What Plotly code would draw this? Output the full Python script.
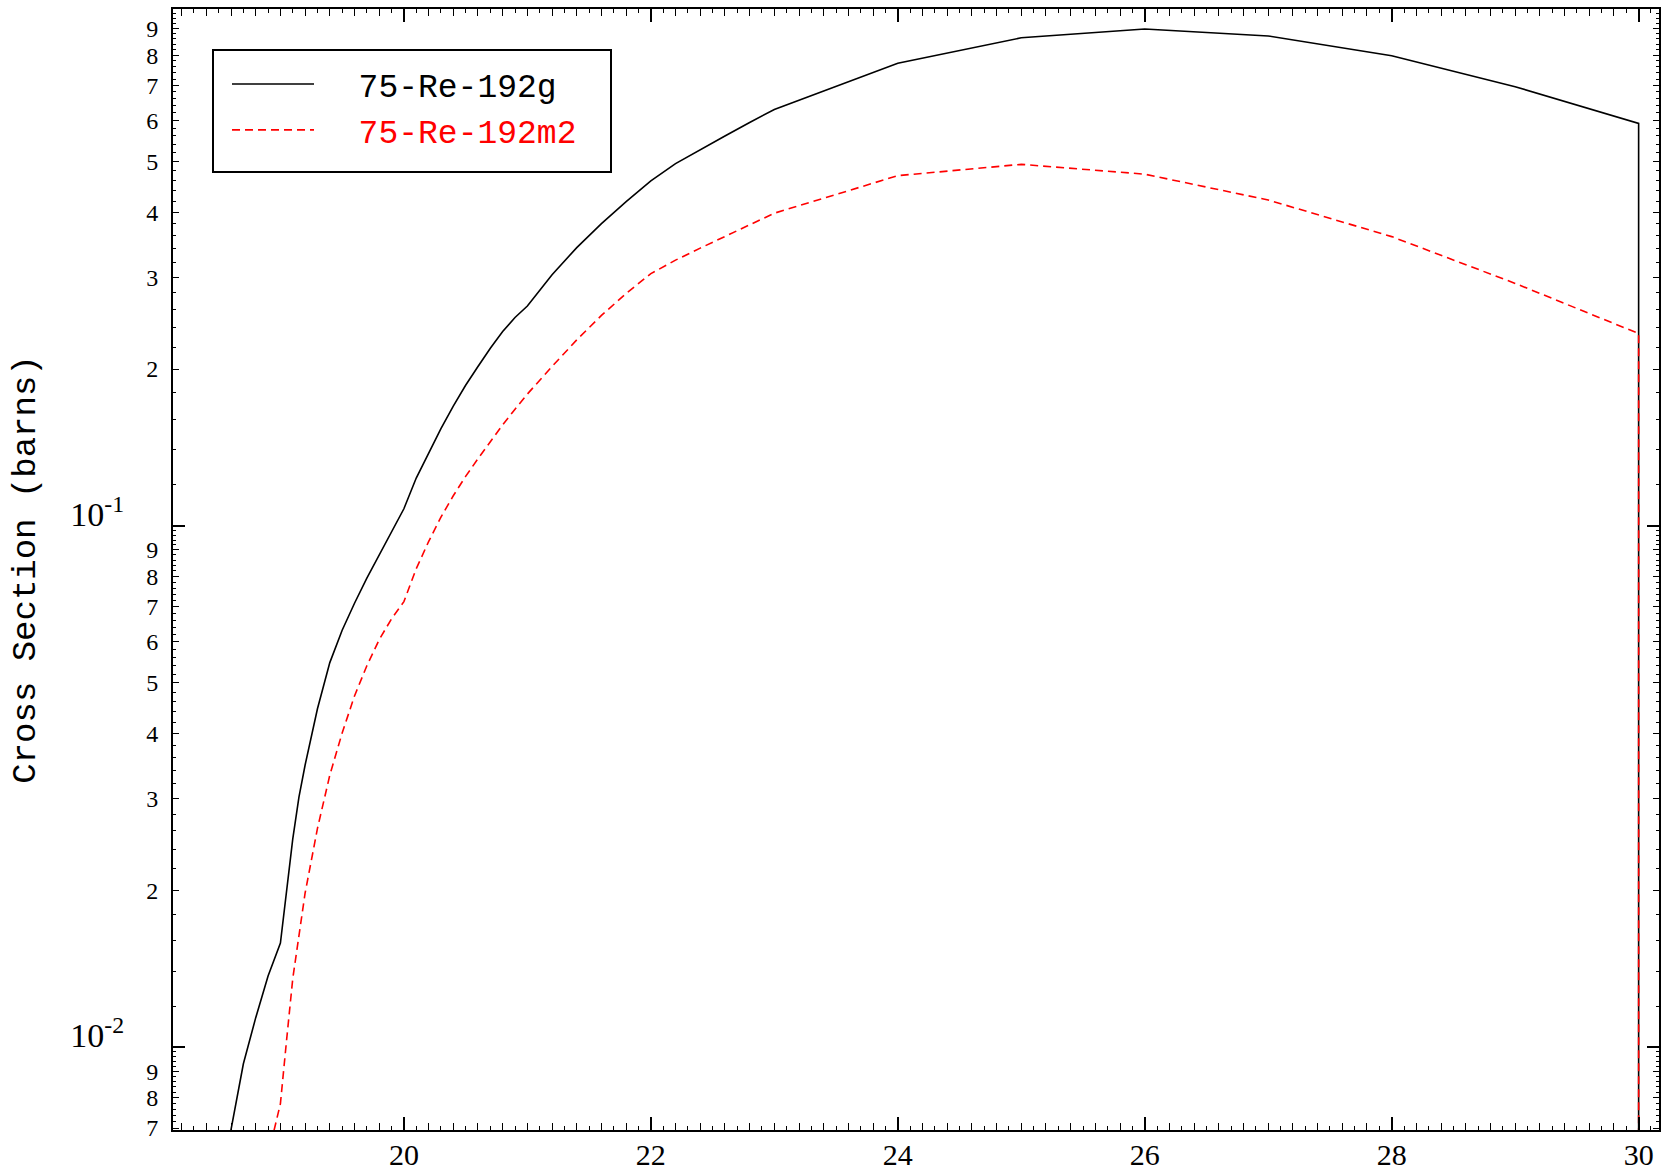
import plotly.graph_objects as go

# ---------------- data ----------------
energy_g = [18.5, 18.6, 18.7, 18.8, 18.9, 19.0, 19.05, 19.1, 19.15, 19.2, 19.3,
            19.4, 19.5, 19.6, 19.7, 19.8, 19.9, 20.0, 20.1, 20.2, 20.3, 20.4,
            20.5, 20.6, 20.7, 20.8, 20.9, 21.0, 21.2, 21.4, 21.6, 21.8, 22.0,
            22.2, 22.4, 22.6, 22.8, 23.0, 24.0, 25.0, 26.0, 27.0, 28.0, 29.0,
            30.0, 30.0]
xs_g = [0.0052, 0.00694, 0.0093, 0.0114, 0.0137, 0.01585, 0.0202, 0.0251,
        0.0302, 0.0348, 0.0446, 0.0547, 0.0631, 0.0711, 0.0794, 0.0881,
        0.0977, 0.1079, 0.1236, 0.1384, 0.1538, 0.1698, 0.1862, 0.2023,
        0.2193, 0.2360, 0.2512, 0.2642, 0.3034, 0.3420, 0.3802, 0.4188,
        0.4592, 0.4955, 0.5272, 0.5598, 0.5943, 0.6295, 0.772, 0.864, 0.898,
        0.871, 0.798, 0.696, 0.592, 0.001]

energy_m2 = [18.9, 19.0, 19.05, 19.1, 19.2, 19.3, 19.4, 19.5, 19.6, 19.7, 19.8,
             19.9, 20.0, 20.1, 20.2, 20.3, 20.4, 20.5, 20.6, 20.7, 20.8, 20.9,
             21.0, 21.2, 21.4, 21.6, 21.8, 22.0, 22.2, 22.4, 22.6, 22.8, 23.0,
             24.0, 25.0, 26.0, 27.0, 28.0, 29.0, 30.0, 30.0]
xs_m2 = [0.0062, 0.0078, 0.01033, 0.01355, 0.01977, 0.0263, 0.03327, 0.04009,
         0.04721, 0.05395, 0.06053, 0.06637, 0.07161, 0.08279, 0.09333, 0.1040,
         0.1143, 0.1245, 0.1346, 0.1452, 0.1563, 0.1675, 0.1791, 0.2023,
         0.2275, 0.2535, 0.2793, 0.3048, 0.3236, 0.3412, 0.3589, 0.3776,
         0.3981, 0.4699, 0.494, 0.473, 0.422, 0.359, 0.292, 0.234, 0.001]

series_names = ["75-Re-192g", "75-Re-192m2"]
series_colors = ["black", "red"]

x_range = [18.13, 30.165]
y_range = [-2.1586, -0.0083]          # log10 of 0.00694 .. 0.981
x_major_ticks = [20, 22, 24, 26, 28, 30]
y_decade_vals = [0.01, 0.1]
y_decade_text = ["10<sup>-2</sup>", "10<sup>-1</sup>"]
y_digit_vals = [0.007, 0.008, 0.009,
                0.02, 0.03, 0.04, 0.05, 0.06, 0.07, 0.08, 0.09,
                0.2, 0.3, 0.4, 0.5, 0.6, 0.7, 0.8, 0.9]
y_digit_text = ["7", "8", "9",
                "2", "3", "4", "5", "6", "7", "8", "9",
                "2", "3", "4", "5", "6", "7", "8", "9"]
y_minor_steps = [1.2, 1.4, 1.6, 1.8, 2.2, 2.4, 2.6, 2.8, 3.2, 3.4, 3.6, 3.8,
                 4.2, 4.4, 4.6, 4.8, 5.2, 5.4, 5.6, 5.8, 6.2, 6.4, 6.6, 6.8,
                 7.2, 7.4, 7.6, 7.8, 8.2, 8.4, 8.6, 8.8, 9.2, 9.4, 9.6, 9.8]
y_minor_vals = [s * d for d in (0.001, 0.01, 0.1) for s in y_minor_steps]

NUM_FONT = "Liberation Serif"
TXT_FONT = "Liberation Mono"
NBSP = "\u00a0\u00a0"

FIG_W, FIG_H = 1663, 1171
M_L, M_R, M_T, M_B = 173, 4, 9, 41
PLOT_W = FIG_W - M_L - M_R
PLOT_H = FIG_H - M_T - M_B

fig = go.Figure()
fig.add_trace(go.Scatter(
    x=energy_g, y=xs_g, mode="lines", name=NBSP + series_names[0],
    line=dict(color=series_colors[0], width=1.6)))
fig.add_trace(go.Scatter(
    x=energy_m2, y=xs_m2, mode="lines", xaxis="x2", yaxis="y2",
    name=NBSP + "<span style='color:red'>" + series_names[1] + "</span>",
    line=dict(color=series_colors[1], width=1.6, dash="8px,5px")))

axis_common = dict(showline=True, linecolor="black", linewidth=2,
                   mirror="allticks", ticks="inside", tickcolor="black",
                   showgrid=False, zeroline=False, automargin=False)

fig.update_layout(
    width=FIG_W, height=FIG_H,
    margin=dict(l=M_L, r=M_R, t=M_T, b=M_B, autoexpand=False),
    paper_bgcolor="white", plot_bgcolor="white",
    showlegend=True,
    legend=dict(x=54 / PLOT_W, y=1 - 47 / PLOT_H,
                xanchor="left", yanchor="top",
                bgcolor="rgba(0,0,0,0)", borderwidth=0,
                font=dict(family=TXT_FONT, size=33, color="black"),
                itemwidth=82, tracegroupgap=0),
    xaxis=dict(axis_common, range=x_range, tickmode="array",
               tickvals=x_major_ticks, ticklen=13, tickwidth=1.5,
               ticklabelstandoff=-3,
               tickfont=dict(family=NUM_FONT, size=30, color="black"),
               minor=dict(dtick=0.2, tick0=20, ticklen=7, ticks="inside",
                          tickcolor="black", tickwidth=1.2)),
    xaxis2=dict(axis_common, overlaying="x", anchor="y2", range=x_range,
                dtick=0.1, tick0=20, ticklen=4, tickwidth=1,
                showticklabels=False),
    yaxis=dict(axis_common, type="log", range=y_range, tickmode="array",
               tickvals=y_digit_vals, ticktext=y_digit_text, ticklen=6,
               tickwidth=1.2, ticklabelstandoff=8,
               tickfont=dict(family=NUM_FONT, size=24, color="black"),
               minor=dict(tickmode="array", tickvals=y_minor_vals, ticklen=3,
                          ticks="inside", tickcolor="black", tickwidth=1),
               title=dict(text="Cross Section (barns)", standoff=100,
                          font=dict(family=TXT_FONT, size=34, color="black"))),
    yaxis2=dict(axis_common, type="log", overlaying="y", anchor="x2",
                side="left", range=y_range, tickmode="array",
                tickvals=y_decade_vals, ticktext=y_decade_text, ticklen=12,
                tickwidth=1.5, ticklabelstandoff=40, ticklabelshift=-12,
                tickfont=dict(family=NUM_FONT, size=34, color="black")),
)

# legend frame (pixel offsets from the plot area's top-left corner)
fig.add_shape(type="rect", xref="paper", yref="paper",
              x0=40 / PLOT_W, x1=438 / PLOT_W,
              y0=1 - 163 / PLOT_H, y1=1 - 41 / PLOT_H,
              line=dict(color="black", width=2), fillcolor="rgba(0,0,0,0)",
              layer="above")

# remove the page's default body margin so the figure fills the window
fig.write_html("out.html",
               config={"displayModeBar": False},
               post_script="document.body.style.margin='0px';"
                           "document.body.style.overflow='hidden';")
